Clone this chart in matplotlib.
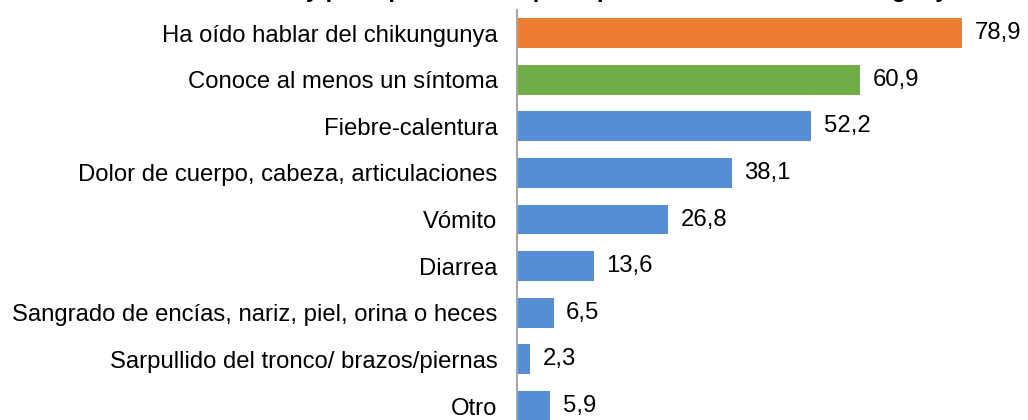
import matplotlib.pyplot as plt

plt.rcParams['font.family'] = ['Liberation Sans', 'DejaVu Sans']

# Data
categories = [
    "Ha oído hablar del chikungunya",
    "Conoce al menos un síntoma",
    "Fiebre-calentura",
    "Dolor de cuerpo, cabeza, articulaciones",
    "Vómito",
    "Diarrea",
    "Sangrado de encías, nariz, piel, orina o heces",
    "Sarpullido del tronco/ brazos/piernas",
    "Otro",
]
values = [78.9, 60.9, 52.2, 38.1, 26.8, 13.6, 6.5, 2.3, 5.9]
colors = ["#ED7D31", "#70AD47"] + ["#558ED5"] * 7
title = "Conocimiento y percepción de los principales síntomas del chikungunya"

fig = plt.figure(figsize=(10.28, 4.2), dpi=100)
ax = fig.add_axes([517 / 1028, 0, 511 / 1028, 410 / 420])

y = list(range(len(categories)))
ax.barh(y, values, height=0.64, color=colors)
ax.set_ylim(8.30, -0.494)
ax.set_xlim(0, 90.6)

for yi, v in zip(y, values):
    ax.text(v + 2.2, yi, f"{v:.1f}".replace(".", ","), va="center", ha="left",
            fontsize=17.2, color="black")

ax.set_yticks(y)
ax.set_yticklabels(categories, fontsize=17.2)
ax.tick_params(axis="y", length=0, pad=14)
ax.set_xticks([])
for side in ["top", "right", "bottom"]:
    ax.spines[side].set_visible(False)
ax.spines["left"].set_color("#A6A6A6")
ax.spines["left"].set_linewidth(1.5)

# title sits above the canvas, only its descenders show
fig.text(962 / 1028, 1 + 3 / 420, title, ha="right", va="baseline",
         fontsize=17, fontweight="bold")

fig.savefig("out.png", dpi=100)
